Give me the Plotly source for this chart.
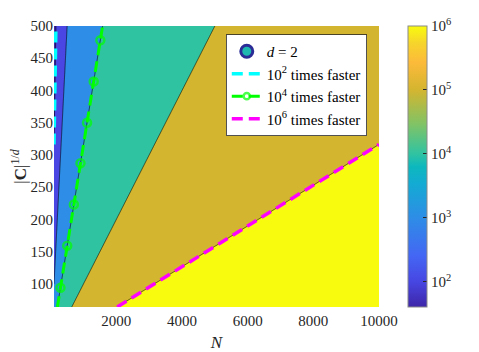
import numpy as np
import plotly.graph_objects as go

# axes of the speed-up map
n_range = [100, 10000]
c_range = [64, 500]

# speed-up: S = k * (N / |C|^(1/d))^2
speedup_k = 1000.0
speedup_power = 2.0

# contour levels (log10 of speed-up) and the marked "times faster" curves
levels_log = [2, 3, 4, 5, 6]
faster_levels = [1e2, 1e4, 1e6]
faster_names = ['10<sup>2</sup> times faster', '10<sup>4</sup> times faster', '10<sup>6</sup> times faster']
faster_colors = ['#00ffff', '#00ff00', '#ff00ff']
marker_c = [94, 159, 223, 287, 350, 414, 478]

# colorbar limits (log10)
cbar_min, cbar_max = 1.602, 6.0
cbar_ticks = [2, 3, 4, 5, 6]
cbar_text = ['10<sup>2</sup>', '10<sup>3</sup>', '10<sup>4</sup>', '10<sup>5</sup>', '10<sup>6</sup>']

x_ticks = [2000, 4000, 6000, 8000, 10000]
x_text = ['2000', '4000', '6000', '8000', '10000']

parula = [
    [0.00, '#3e26a8'], [0.09, '#4746e2'], [0.18, '#4466f4'], [0.318, '#2e8de6'],
    [0.44, '#13abd3'], [0.50, '#0db8bd'], [0.545, '#30c3a2'], [0.65, '#80c366'],
    [0.773, '#d4b52f'], [0.87, '#fcba3a'], [0.94, '#f6d52b'], [1.00, '#f9fb0e'],
]
# colour of each filled band, taken from parula at the band's lower level
band_colors = ['#3e26a8', '#4a46e4', '#2e8de6', '#30c3a2', '#d4b52f', '#f9fb0e']
band_scale = [[i / 5, col] for i, col in enumerate(band_colors)]

font = 'Times New Roman, Liberation Serif, serif'
tick_col = '#262626'

N = np.linspace(n_range[0], n_range[1], 400)
C = np.linspace(c_range[0], c_range[1], 400)
NN, CC = np.meshgrid(N, C)
Z = np.log10(speedup_k * (NN / CC) ** speedup_power)

fig = go.Figure()
fig.add_trace(go.Contour(
    x=N, y=C, z=Z,
    autocontour=False,
    contours=dict(start=levels_log[0], end=levels_log[-1], size=1, coloring='fill'),
    colorscale=band_scale,
    line=dict(color='black', width=0.6),
    showscale=False, showlegend=False, hoverinfo='skip',
))

# legend entry for the filled contour
fig.add_trace(go.Scatter(
    x=[None], y=[None], mode='markers', name='<i>d</i> = 2',
    marker=dict(symbol='circle', size=12, color='#1fb8b0', line=dict(color='#2c2c96', width=3)),
))

for lvl, name, col in zip(faster_levels, faster_names, faster_colors):
    ratio = (lvl / speedup_k) ** (1 / speedup_power)
    c_start = max(c_range[0], n_range[0] / ratio)
    c_end = min(c_range[1], n_range[1] / ratio)
    if lvl == 1e4:
        c_line = np.array([c_start] + marker_c + [c_end], dtype=float)
        sizes = [0] + [8] * len(marker_c) + [0]
        fig.add_trace(go.Scatter(
            x=ratio * c_line, y=c_line, mode='lines+markers', name=name,
            line=dict(color=col, width=3, dash='11px,6px'),
            marker=dict(symbol='circle-open', size=sizes, color=col, line=dict(color=col, width=2.5)),
        ))
    else:
        c_line = np.array([c_start, c_end])
        fig.add_trace(go.Scatter(
            x=ratio * c_line, y=c_line, mode='lines', name=name,
            line=dict(color=col, width=3.5, dash='11px,6px'),
        ))

# continuous colorbar
fig.add_trace(go.Scatter(
    x=[n_range[0], n_range[0]], y=[c_range[0], c_range[0]], mode='markers',
    marker=dict(size=1, opacity=0, color=[cbar_min, cbar_max], colorscale=parula,
                cmin=cbar_min, cmax=cbar_max, showscale=True,
                colorbar=dict(x=1.089, xanchor='left', y=0.5, yanchor='middle', len=1, lenmode='fraction',
                              thickness=19, xpad=0, ypad=0, outlinecolor='#8a8a8a', outlinewidth=1,
                              tickvals=cbar_ticks, ticktext=cbar_text, ticks='inside', ticklen=4,
                              tickcolor='#262626',
                              tickfont=dict(family=font, size=15, color=tick_col))),
    showlegend=False, hoverinfo='skip',
))

# the page body adds an 8px offset, so the figure is drawn 8px smaller
fig.update_layout(
    width=471, height=344,
    margin=dict(l=46, r=100, t=18, b=45, autoexpand=False),
    paper_bgcolor='white', plot_bgcolor='white',
    font=dict(family=font, size=15, color=tick_col),
    legend=dict(x=0.963, xanchor='right', y=0.971, yanchor='top',
                bgcolor='white', bordercolor='#262626', borderwidth=0.8,
                font=dict(family=font, size=15, color='black'),
                tracegroupgap=0, itemwidth=30),
    xaxis=dict(range=n_range, tickvals=x_ticks, ticktext=x_text, showgrid=False, zeroline=False,
               showline=False, ticks='', automargin=False, ticklabelstandoff=3,
               tickfont=dict(family=font, size=15, color=tick_col),
               title=dict(text='<i>N</i>', font=dict(family=font, size=17, color=tick_col), standoff=9)),
    yaxis=dict(range=c_range, tick0=0, dtick=50, showgrid=False, zeroline=False, showline=False,
               ticks='', automargin=False,
               tickfont=dict(family=font, size=15, color=tick_col),
               title=dict(text='|<b>C</b>|<sup>1/<i>d</i></sup>', font=dict(family=font, size=17, color=tick_col),
                          standoff=3)),
)

fig.write_html("out.html")
